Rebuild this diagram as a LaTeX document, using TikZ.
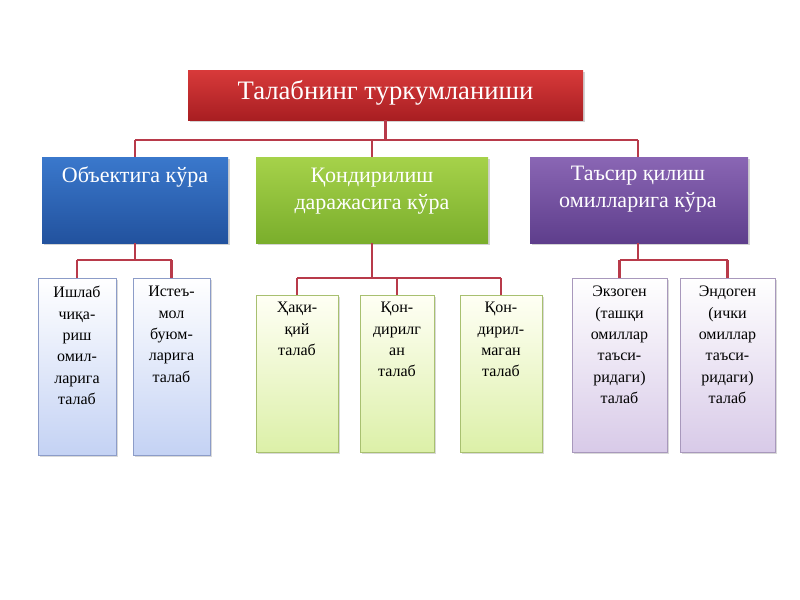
\documentclass[tikz,border=0pt]{standalone}
\usepackage{fontspec}
\setmainfont{Liberation Serif}
\usetikzlibrary{shadows}
\definecolor{lnk}{HTML}{B83A4A}
\definecolor{rA}{HTML}{D83A3A}\definecolor{rB}{HTML}{A81E22}
\definecolor{bA}{HTML}{3A78CC}\definecolor{bB}{HTML}{22529E}
\definecolor{gA}{HTML}{A6D24A}\definecolor{gB}{HTML}{7AAE2C}
\definecolor{pA}{HTML}{8A66B4}\definecolor{pB}{HTML}{5E3E8C}
\definecolor{bL}{HTML}{C4D2F4}\definecolor{gL}{HTML}{DCF0A8}\definecolor{pL}{HTML}{D8CAE8}
\definecolor{bD}{HTML}{8C9CC8}\definecolor{gD}{HTML}{A8C070}\definecolor{pD}{HTML}{A898BC}
\begin{document}
\begin{tikzpicture}[x=0.75pt,y=-0.75pt,
 box/.style={draw=none,drop shadow={opacity=0.35,shadow xshift=1.5pt,shadow yshift=-1.5pt}},
 leaf/.style={draw=#1,line width=0.6pt,drop shadow={opacity=0.3,shadow xshift=1.5pt,shadow yshift=-1.5pt}},
 wt/.style={text=white,font=\fontsize{16.5}{20}\selectfont,align=center,anchor=north,inner sep=0},
 lt/.style={font=\fontsize{12}{16}\selectfont,align=center,anchor=north,inner sep=0},
 ln/.style={draw=lnk,line width=1.6pt}]
\useasboundingbox (0,0) rectangle (800,600);
% top
\path[box,top color=rA,bottom color=rB] (188,70) rectangle (583,120);
\node[text=white,font=\fontsize{20}{24}\selectfont] (top) at (385.5,93) {Талабнинг туркумланиши};
\coordinate (topb) at (385.5,120);
% second row
\path[box,top color=bA,bottom color=bB] (42,157) rectangle (228,243);
\path[box,top color=gA,bottom color=gB] (256,157) rectangle (488,243);
\path[box,top color=pA,bottom color=pB] (530,157) rectangle (748,243);
\coordinate (b1t) at (135,157); \coordinate (b1b) at (135,243);
\coordinate (b2t) at (372,157); \coordinate (b2b) at (372,243);
\coordinate (b3t) at (638,157); \coordinate (b3b) at (638,243);
\node[wt] (t1) at (135,166) {Объектига кўра};
\node[wt] (t2) at (372,168) {Қондирилиш\\даражасига кўра};
\node[wt] (t3) at (638,166) {Таъсир қилиш\\омилларига кўра};
% leaves
\path[leaf=bD,top color=white,bottom color=bL] (38,278) rectangle (116,455);
\path[leaf=bD,top color=white,bottom color=bL] (133,278) rectangle (210,455);
\path[leaf=gD,top color=yellow!4!white,bottom color=gL] (256,295) rectangle (338,452);
\path[leaf=gD,top color=yellow!4!white,bottom color=gL] (360,295) rectangle (434,452);
\path[leaf=gD,top color=yellow!4!white,bottom color=gL] (460,295) rectangle (542,452);
\path[leaf=pD,top color=white,bottom color=pL] (572,278) rectangle (667,452);
\path[leaf=pD,top color=white,bottom color=pL] (680,278) rectangle (775,452);
\node[lt] (l1) at (77,286) {Ишлаб\\чиқа-\\риш\\омил-\\ларига\\талаб};
\node[lt] (l2) at (171.5,286) {Истеъ-\\мол\\буюм-\\ларига\\талаб};
\node[lt] (l3) at (297,302) {Ҳақи-\\қий\\талаб};
\node[lt] (l4) at (397,302) {Қон-\\дирилг\\ан\\талаб};
\node[lt] (l5) at (501,302) {Қон-\\дирил-\\маган\\талаб};
\node[lt] (l6) at (619.5,286) {Экзоген\\(ташқи\\омиллар\\таъси-\\ридаги)\\талаб};
\node[lt] (l7) at (727.5,286) {Эндоген\\(ички\\омиллар\\таъси-\\ридаги)\\талаб};
% connectors
\draw[ln] (topb) -- (385.5,140) (135,140) -- (638,140);
\draw[ln] (135,140) -- (b1t) (372,140) -- (b2t) (638,140) -- (b3t);
\draw[ln] (b1b) -- (135,260) (77,260) -- (171.5,260) (77,260) -- (77,278) (171.5,260) -- (171.5,278);
\draw[ln] (b2b) -- (372,278) (297,278) -- (501,278) (297,278) -- (297,295) (397,278) -- (397,295) (501,278) -- (501,295);
\draw[ln] (b3b) -- (638,260) (619.5,260) -- (727.5,260) (619.5,260) -- (619.5,278) (727.5,260) -- (727.5,278);
\end{tikzpicture}
\end{document}
